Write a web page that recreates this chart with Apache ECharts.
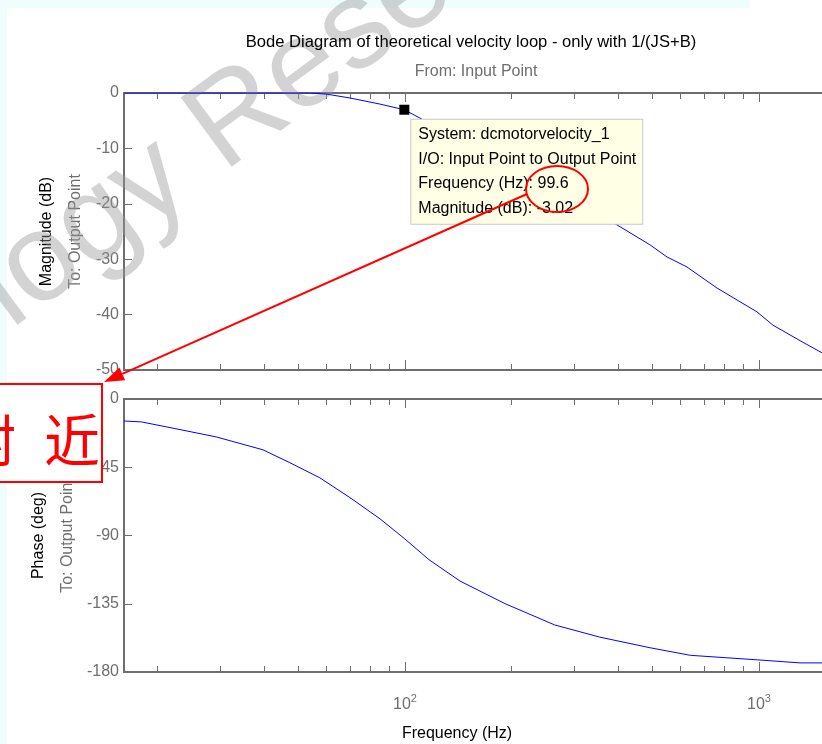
<!DOCTYPE html>
<html>
<head>
<meta charset="utf-8">
<script src="https://cdn.jsdelivr.net/npm/echarts@6/dist/echarts.min.js"></script>
<style>
html, body { margin: 0; padding: 0; background: #fff; }
#view { width: 822px; height: 744px; }
</style>
</head>
<body>
<div id="view"></div>
<script>
// frequency range shown (Hz)
var fMin = 16.08, fMax = 1507;

// magnitude curve
var magFreq = [16.08, 22.4, 29.1, 38.9, 47.3, 53.9, 60, 69.9, 85.0, 99.6, 120, 163, 225, 312, 397, 492, 550, 626, 761, 987, 1095, 1306, 1507];
var magDb   = [0, 0, 0, 0, 0, 0, -0.2, -0.9, -2.0, -3.02, -5.8, -10.5, -15, -19.7, -23.8, -27.4, -29.6, -31.4, -35.2, -39.5, -41.9, -44.7, -46.9];

// phase curve
var phaseFreq = [16.08, 18.0, 22.4, 29.3, 39.7, 47.3, 57.5, 69.9, 85.0, 99.6, 117, 143, 192, 265, 355, 492, 640, 992, 1306, 1507];
var phaseDeg  = [-14.5, -15.1, -19.5, -25, -33.5, -42, -52, -65, -79, -92, -106, -120, -135, -149, -157, -164, -169, -172, -174, -174];

// data tip
var tipFreq = 99.6, tipDb = -3.02;

var minorTicks = [20, 30, 40, 50, 60, 70, 80, 90, 200, 300, 400, 500, 600, 700, 800, 900];
var majorTicks = [100, 1000];

var font = 'Liberation Sans';
var axisGrey = '#6e6e6e';

function xAx(grid, pos, ticks, len, line, label) {
    return {
        type: 'log', logBase: 10, gridIndex: grid, position: pos,
        min: fMin, max: fMax,
        axisLine: {show: line, onZero: false, lineStyle: {color: axisGrey, width: 2}},
        axisTick: {show: true, inside: true, length: len, customValues: ticks,
                   lineStyle: {color: axisGrey, width: 1}},
        axisLabel: {
            show: label, customValues: majorTicks, margin: 21,
            formatter: function (v) {
                return '{b|10}{s|' + Math.round(Math.log(v) / Math.LN10) + '}';
            },
            rich: {
                b: {fontFamily: font, fontSize: 16, color: axisGrey},
                s: {fontFamily: font, fontSize: 11, color: axisGrey, padding: [0, 0, 12, 0]}
            }
        },
        splitLine: {show: false}
    };
}

function yAx(grid, min, step, title) {
    return {
        type: 'value', gridIndex: grid, min: min, max: 0, interval: step,
        axisLine: {show: true, onZero: false, lineStyle: {color: axisGrey, width: 2}},
        axisTick: {show: true, inside: true, length: 8, lineStyle: {color: axisGrey, width: 1}},
        axisLabel: {color: axisGrey, fontFamily: font, fontSize: 16, margin: 5},
        splitLine: {show: false},
        name: '{a|' + title + '}\n{b|To: Output Point}',
        nameLocation: 'middle', nameRotate: 90, nameGap: 34,
        nameTextStyle: {
            rich: {
                a: {fontFamily: font, fontSize: 16, color: '#000', lineHeight: 29},
                b: {fontFamily: font, fontSize: 16, color: axisGrey, lineHeight: 29}
            }
        }
    };
}

var myChart = echarts.init(document.getElementById('view'));

// red annotation arrow
var tail = [527, 194], tip = [104, 382];
var dx = tip[0] - tail[0], dy = tip[1] - tail[1];
var len = Math.sqrt(dx * dx + dy * dy), ux = dx / len, uy = dy / len;
var bx = tip[0] - 20 * ux, by = tip[1] - 20 * uy;

option = {
    backgroundColor: '#ffffff',
    animation: false,
    title: [{
        text: 'Bode Diagram of theoretical velocity loop - only with 1/(JS+B)',
        left: 466, top: 29, textAlign: 'center',
        textStyle: {fontFamily: font, fontSize: 16.6, fontWeight: 'normal', color: '#000'}
    }, {
        text: 'From: Input Point',
        left: 471, top: 59, textAlign: 'center',
        textStyle: {fontFamily: font, fontSize: 16, fontWeight: 'normal', color: axisGrey}
    }],
    grid: [
        {left: 124, top: 93, right: 0, height: 277},
        {left: 124, top: 399, right: 0, height: 273}
    ],
    xAxis: [
        xAx(0, 'bottom', minorTicks, 6, true, false),
        xAx(0, 'bottom', majorTicks, 10, false, false),
        xAx(0, 'top', minorTicks, 6, true, false),
        xAx(0, 'top', majorTicks, 9, false, false),
        xAx(1, 'bottom', minorTicks, 6, true, true),
        xAx(1, 'bottom', majorTicks, 10, false, false),
        xAx(1, 'top', minorTicks, 6, true, false),
        xAx(1, 'top', majorTicks, 9, false, false)
    ],
    yAxis: [
        yAx(0, -50, 10, 'Magnitude (dB)'),
        yAx(1, -180, 45, 'Phase (deg)')
    ],
    series: [{
        type: 'line', xAxisIndex: 0, yAxisIndex: 0,
        data: magFreq.map(function (f, i) { return [f, magDb[i]]; }),
        showSymbol: false, lineStyle: {color: '#0000ff', width: 1}, z: 3
    }, {
        type: 'line', xAxisIndex: 4, yAxisIndex: 1,
        data: phaseFreq.map(function (f, i) { return [f, phaseDeg[i]]; }),
        showSymbol: false, lineStyle: {color: '#0000ff', width: 1}, z: 3
    }, {
        type: 'scatter', xAxisIndex: 0, yAxisIndex: 0, z: 10,
        data: [[tipFreq, tipDb]],
        symbol: 'rect', symbolSize: 10, itemStyle: {color: '#000', opacity: 1},
        label: {
            show: true, position: [12, 15],
            formatter: [
                'System: dcmotorvelocity_1',
                'I/O: Input Point to Output Point',
                'Frequency (Hz): ' + tipFreq,
                'Magnitude (dB): ' + tipDb.toFixed(2)
            ].join('\n'),
            fontFamily: font, fontSize: 16, color: '#000', lineHeight: 24.5,
            backgroundColor: '#ffffe6', borderColor: '#c8c8c8', borderWidth: 1,
            padding: [3, 6, 3, 7], opacity: 1
        }
    }],
    graphic: [
        // light cyan page edges
        {type: 'rect', shape: {x: 0, y: 0, width: 7, height: 744}, style: {fill: '#effdfd'}, z: 0},
        {type: 'rect', shape: {x: 0, y: 0, width: 750, height: 8}, style: {fill: '#effdfd'}, z: 0},
        // watermark
        {type: 'text', x: 175, y: 166, rotation: 0.635, z: 1,
         style: {text: 'Technology', font: '125px "Liberation Sans"', fill: 'rgba(150,150,150,0.42)',
                 textAlign: 'right', textVerticalAlign: 'middle'}},
        {type: 'text', x: 203, y: 145, rotation: 0.635, z: 1,
         style: {text: 'Research', font: '125px "Liberation Sans"', fill: 'rgba(150,150,150,0.42)',
                 textAlign: 'left', textVerticalAlign: 'middle'}},
        // Frequency axis title
        {type: 'text', x: 457, y: 734, z: 10,
         style: {text: 'Frequency (Hz)', font: '16px "Liberation Sans"', fill: '#000',
                 textAlign: 'center', textVerticalAlign: 'middle'}},
        // red annotation
        {type: 'ellipse', shape: {cx: 557, cy: 189, rx: 31, ry: 23}, z: 100,
         style: {fill: 'none', stroke: '#ff0000', lineWidth: 2}},
        {type: 'line', shape: {x1: tail[0], y1: tail[1], x2: bx, y2: by}, z: 100,
         style: {stroke: '#ff0000', lineWidth: 2}},
        {type: 'polygon', z: 100,
         shape: {points: [tip, [bx - 7 * uy, by + 7 * ux], [bx + 7 * uy, by - 7 * ux]]},
         style: {fill: '#ff0000'}},
        {type: 'rect', shape: {x: -2, y: 384, width: 104, height: 98}, z: 100,
         style: {fill: '#ffffff', stroke: '#ff0000', lineWidth: 2}},
        {type: 'text', x: 16, y: 440, z: 101,
         style: {text: '附', font: '56px "Noto Sans CJK SC"', fill: '#ff0000',
                 textAlign: 'right', textVerticalAlign: 'middle'}},
        {type: 'text', x: 100, y: 440, z: 101,
         style: {text: '近', font: '56px "Noto Sans CJK SC"', fill: '#ff0000',
                 textAlign: 'right', textVerticalAlign: 'middle'}}
    ]
};

myChart.setOption(option);
</script>
</body>
</html>
